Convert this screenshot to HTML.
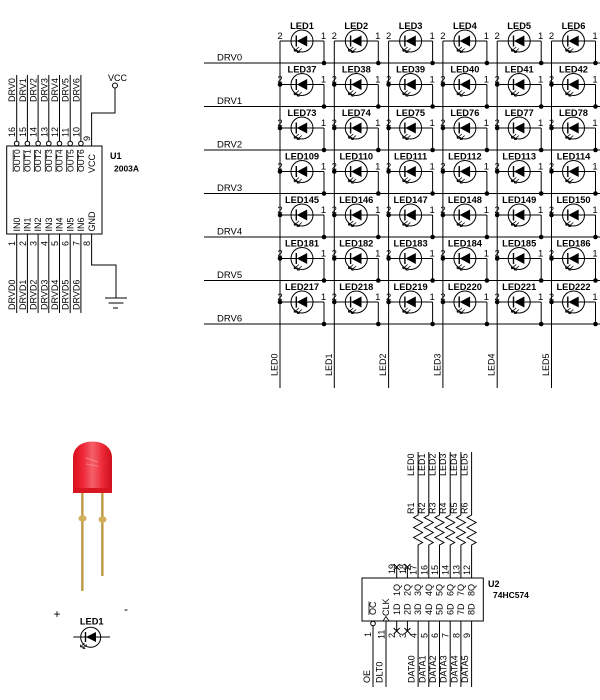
<!DOCTYPE html>
<html><head><meta charset="utf-8"><style>
html,body{margin:0;padding:0;background:#fff;}
svg{display:block;}
text{font-family:"Liberation Sans",Arial,sans-serif;font-size:9px;fill:#000;}
.b{font-weight:bold;}
.l{font-weight:bold;font-size:9.3px;text-anchor:middle;}
.p{font-size:9.5px;text-anchor:middle;}
.s{font-size:9px;}
.o{font-size:8.5px;}
.d{font-size:9.5px;}
</style></head><body>
<svg width="600" height="700" viewBox="0 0 600 700" xmlns="http://www.w3.org/2000/svg">
<defs>
<g id="ledsym">
<path d="M0 0H44M44 0V22" stroke="#000" fill="none"/>
<circle cx="22" cy="0" r="11" fill="none" stroke="#000"/>
<path d="M16.8 0L27.2 -5.5V5.5Z" fill="#000"/>
<path d="M16.3 -5.5V5.5" stroke="#000" stroke-width="1.4"/>
<path d="M19 6L14.2 10.2M21.8 7.5L17.2 11.6M14.2 10.2h2.6M14.2 10.2v-2.6M17.2 11.6h2.6M17.2 11.6v-2.6" stroke="#000" stroke-width="0.8" fill="none"/>
<circle cx="44" cy="22" r="2.3" fill="#000"/>
</g>
<linearGradient id="body" x1="0" x2="1" y1="0" y2="0">
<stop offset="0" stop-color="#d8101c"/>
<stop offset="0.25" stop-color="#ee2636"/>
<stop offset="0.5" stop-color="#f4606a"/>
<stop offset="0.75" stop-color="#ec2a38"/>
<stop offset="1" stop-color="#cf0f1c"/>
</linearGradient>
</defs>

<!-- ================= U1 ================= -->
<g stroke="#000" fill="none">
<rect x="6.7" y="146" width="95.3" height="88"/>
<path d="M16.7 75V141M27.4 75V141M38.1 75V141M48.8 75V141M59.5 75V141M70.2 75V141M80.9 75V141"/>
<circle cx="16.7" cy="143.5" r="2.3"/><circle cx="27.4" cy="143.5" r="2.3"/><circle cx="38.1" cy="143.5" r="2.3"/><circle cx="48.8" cy="143.5" r="2.3"/><circle cx="59.5" cy="143.5" r="2.3"/><circle cx="70.2" cy="143.5" r="2.3"/><circle cx="80.9" cy="143.5" r="2.3"/>
<path d="M91.6 146V113H115V88"/>
<circle cx="115" cy="85.5" r="2.5"/>
<path d="M16.7 234V313M27.4 234V313M38.1 234V313M48.8 234V313M59.5 234V313M70.2 234V313M80.9 234V313"/>
<path d="M91.6 234V265H116V298"/>
<path d="M105 298H127M108.5 303H123.5M113 308H118"/>
<!-- overlines -->
<path d="M13.2 150V172M23.9 150V172M34.6 150V172M45.3 150V172M56 150V172M66.7 150V172M77.4 150V172" stroke-width="0.8"/>
</g>
<text x="108" y="81" class="s">VCC</text>
<text x="110" y="159" class="b">U1</text>
<text x="114" y="171.5" class="b" style="font-size:8.5px">2003A</text>
<g>
<text transform="translate(15.2,102) rotate(-90)">DRV0</text>
<text transform="translate(25.9,102) rotate(-90)">DRV1</text>
<text transform="translate(36.6,102) rotate(-90)">DRV2</text>
<text transform="translate(47.3,102) rotate(-90)">DRV3</text>
<text transform="translate(58,102) rotate(-90)">DRV4</text>
<text transform="translate(68.7,102) rotate(-90)">DRV5</text>
<text transform="translate(79.4,102) rotate(-90)">DRV6</text>
<text transform="translate(15.2,137) rotate(-90)">16</text>
<text transform="translate(25.9,137) rotate(-90)">15</text>
<text transform="translate(36.6,137) rotate(-90)">14</text>
<text transform="translate(47.3,137) rotate(-90)">13</text>
<text transform="translate(58,137) rotate(-90)">12</text>
<text transform="translate(68.7,137) rotate(-90)">11</text>
<text transform="translate(79.4,137) rotate(-90)">10</text>
<text transform="translate(90.1,141) rotate(-90)">9</text>
<text class="o" transform="translate(19.8,172) rotate(-90)">OUT0</text>
<text class="o" transform="translate(30.5,172) rotate(-90)">OUT1</text>
<text class="o" transform="translate(41.2,172) rotate(-90)">OUT2</text>
<text class="o" transform="translate(51.9,172) rotate(-90)">OUT3</text>
<text class="o" transform="translate(62.6,172) rotate(-90)">OUT4</text>
<text class="o" transform="translate(73.3,172) rotate(-90)">OUT5</text>
<text class="o" transform="translate(84,172) rotate(-90)">OUT6</text>
<text transform="translate(94.8,173) rotate(-90)">VCC</text>
<text transform="translate(19.8,231.5) rotate(-90)">IN0</text>
<text transform="translate(30.5,231.5) rotate(-90)">IN1</text>
<text transform="translate(41.2,231.5) rotate(-90)">IN2</text>
<text transform="translate(51.9,231.5) rotate(-90)">IN3</text>
<text transform="translate(62.6,231.5) rotate(-90)">IN4</text>
<text transform="translate(73.3,231.5) rotate(-90)">IN5</text>
<text transform="translate(84,231.5) rotate(-90)">IN6</text>
<text transform="translate(94.8,231.5) rotate(-90)">GND</text>
<text transform="translate(15.2,246) rotate(-90)">1</text>
<text transform="translate(25.9,246) rotate(-90)">2</text>
<text transform="translate(36.6,246) rotate(-90)">3</text>
<text transform="translate(47.3,246) rotate(-90)">4</text>
<text transform="translate(58,246) rotate(-90)">5</text>
<text transform="translate(68.7,246) rotate(-90)">6</text>
<text transform="translate(79.4,246) rotate(-90)">7</text>
<text transform="translate(90.1,246) rotate(-90)">8</text>
<text transform="translate(15.2,310) rotate(-90)">DRVD0</text>
<text transform="translate(25.9,310) rotate(-90)">DRVD1</text>
<text transform="translate(36.6,310) rotate(-90)">DRVD2</text>
<text transform="translate(47.3,310) rotate(-90)">DRVD3</text>
<text transform="translate(58,310) rotate(-90)">DRVD4</text>
<text transform="translate(68.7,310) rotate(-90)">DRVD5</text>
<text transform="translate(79.4,310) rotate(-90)">DRVD6</text>
</g>

<!-- ================= LED MATRIX ================= -->
<g stroke="#000" fill="none">
<path d="M204 63H600M204 106.5H600M204 150H600M204 193.5H600M204 237H600M204 280.5H600M204 324H600"/>
<path d="M280 41V388M334.3 41V388M388.6 41V388M442.9 41V388M497.2 41V388M551.5 41V388"/>
</g>
<text x="217" y="60.5" class="d">DRV0</text>
<text x="217" y="104" class="d">DRV1</text>
<text x="217" y="147.5" class="d">DRV2</text>
<text x="217" y="191" class="d">DRV3</text>
<text x="217" y="234.5" class="d">DRV4</text>
<text x="217" y="278" class="d">DRV5</text>
<text x="217" y="321.5" class="d">DRV6</text>
<text transform="translate(277.5,376) rotate(-90)">LED0</text>
<text transform="translate(331.8,376) rotate(-90)">LED1</text>
<text transform="translate(386.1,376) rotate(-90)">LED2</text>
<text transform="translate(440.4,376) rotate(-90)">LED3</text>
<text transform="translate(494.7,376) rotate(-90)">LED4</text>
<text transform="translate(549,376) rotate(-90)">LED5</text>

<!-- row 0 -->
<g transform="translate(280,41)"><use href="#ledsym"/><text x="0" y="-2" class="p">2</text><text x="43.5" y="-2" class="p">1</text><text x="22" y="-12" class="l">LED1</text></g>
<g transform="translate(334.3,41)"><use href="#ledsym"/><text x="0" y="-2" class="p">2</text><text x="43.5" y="-2" class="p">1</text><text x="22" y="-12" class="l">LED2</text></g>
<g transform="translate(388.6,41)"><use href="#ledsym"/><text x="0" y="-2" class="p">2</text><text x="43.5" y="-2" class="p">1</text><text x="22" y="-12" class="l">LED3</text></g>
<g transform="translate(442.9,41)"><use href="#ledsym"/><text x="0" y="-2" class="p">2</text><text x="43.5" y="-2" class="p">1</text><text x="22" y="-12" class="l">LED4</text></g>
<g transform="translate(497.2,41)"><use href="#ledsym"/><text x="0" y="-2" class="p">2</text><text x="43.5" y="-2" class="p">1</text><text x="22" y="-12" class="l">LED5</text></g>
<g transform="translate(551.5,41)"><use href="#ledsym"/><text x="0" y="-2" class="p">2</text><text x="43.5" y="-2" class="p">1</text><text x="22" y="-12" class="l">LED6</text></g>
<!-- row 1 -->
<g transform="translate(280,84.5)"><use href="#ledsym"/><circle r="2.3"/><text x="0" y="-2" class="p">2</text><text x="43.5" y="-2" class="p">1</text><text x="22" y="-12" class="l">LED37</text></g>
<g transform="translate(334.3,84.5)"><use href="#ledsym"/><circle r="2.3"/><text x="0" y="-2" class="p">2</text><text x="43.5" y="-2" class="p">1</text><text x="22" y="-12" class="l">LED38</text></g>
<g transform="translate(388.6,84.5)"><use href="#ledsym"/><circle r="2.3"/><text x="0" y="-2" class="p">2</text><text x="43.5" y="-2" class="p">1</text><text x="22" y="-12" class="l">LED39</text></g>
<g transform="translate(442.9,84.5)"><use href="#ledsym"/><circle r="2.3"/><text x="0" y="-2" class="p">2</text><text x="43.5" y="-2" class="p">1</text><text x="22" y="-12" class="l">LED40</text></g>
<g transform="translate(497.2,84.5)"><use href="#ledsym"/><circle r="2.3"/><text x="0" y="-2" class="p">2</text><text x="43.5" y="-2" class="p">1</text><text x="22" y="-12" class="l">LED41</text></g>
<g transform="translate(551.5,84.5)"><use href="#ledsym"/><circle r="2.3"/><text x="0" y="-2" class="p">2</text><text x="43.5" y="-2" class="p">1</text><text x="22" y="-12" class="l">LED42</text></g>
<!-- row 2 -->
<g transform="translate(280,128)"><use href="#ledsym"/><circle r="2.3"/><text x="0" y="-2" class="p">2</text><text x="43.5" y="-2" class="p">1</text><text x="22" y="-12" class="l">LED73</text></g>
<g transform="translate(334.3,128)"><use href="#ledsym"/><circle r="2.3"/><text x="0" y="-2" class="p">2</text><text x="43.5" y="-2" class="p">1</text><text x="22" y="-12" class="l">LED74</text></g>
<g transform="translate(388.6,128)"><use href="#ledsym"/><circle r="2.3"/><text x="0" y="-2" class="p">2</text><text x="43.5" y="-2" class="p">1</text><text x="22" y="-12" class="l">LED75</text></g>
<g transform="translate(442.9,128)"><use href="#ledsym"/><circle r="2.3"/><text x="0" y="-2" class="p">2</text><text x="43.5" y="-2" class="p">1</text><text x="22" y="-12" class="l">LED76</text></g>
<g transform="translate(497.2,128)"><use href="#ledsym"/><circle r="2.3"/><text x="0" y="-2" class="p">2</text><text x="43.5" y="-2" class="p">1</text><text x="22" y="-12" class="l">LED77</text></g>
<g transform="translate(551.5,128)"><use href="#ledsym"/><circle r="2.3"/><text x="0" y="-2" class="p">2</text><text x="43.5" y="-2" class="p">1</text><text x="22" y="-12" class="l">LED78</text></g>
<!-- row 3 -->
<g transform="translate(280,171.5)"><use href="#ledsym"/><circle r="2.3"/><text x="0" y="-2" class="p">2</text><text x="43.5" y="-2" class="p">1</text><text x="22" y="-12" class="l">LED109</text></g>
<g transform="translate(334.3,171.5)"><use href="#ledsym"/><circle r="2.3"/><text x="0" y="-2" class="p">2</text><text x="43.5" y="-2" class="p">1</text><text x="22" y="-12" class="l">LED110</text></g>
<g transform="translate(388.6,171.5)"><use href="#ledsym"/><circle r="2.3"/><text x="0" y="-2" class="p">2</text><text x="43.5" y="-2" class="p">1</text><text x="22" y="-12" class="l">LED111</text></g>
<g transform="translate(442.9,171.5)"><use href="#ledsym"/><circle r="2.3"/><text x="0" y="-2" class="p">2</text><text x="43.5" y="-2" class="p">1</text><text x="22" y="-12" class="l">LED112</text></g>
<g transform="translate(497.2,171.5)"><use href="#ledsym"/><circle r="2.3"/><text x="0" y="-2" class="p">2</text><text x="43.5" y="-2" class="p">1</text><text x="22" y="-12" class="l">LED113</text></g>
<g transform="translate(551.5,171.5)"><use href="#ledsym"/><circle r="2.3"/><text x="0" y="-2" class="p">2</text><text x="43.5" y="-2" class="p">1</text><text x="22" y="-12" class="l">LED114</text></g>
<!-- row 4 -->
<g transform="translate(280,215)"><use href="#ledsym"/><circle r="2.3"/><text x="0" y="-2" class="p">2</text><text x="43.5" y="-2" class="p">1</text><text x="22" y="-12" class="l">LED145</text></g>
<g transform="translate(334.3,215)"><use href="#ledsym"/><circle r="2.3"/><text x="0" y="-2" class="p">2</text><text x="43.5" y="-2" class="p">1</text><text x="22" y="-12" class="l">LED146</text></g>
<g transform="translate(388.6,215)"><use href="#ledsym"/><circle r="2.3"/><text x="0" y="-2" class="p">2</text><text x="43.5" y="-2" class="p">1</text><text x="22" y="-12" class="l">LED147</text></g>
<g transform="translate(442.9,215)"><use href="#ledsym"/><circle r="2.3"/><text x="0" y="-2" class="p">2</text><text x="43.5" y="-2" class="p">1</text><text x="22" y="-12" class="l">LED148</text></g>
<g transform="translate(497.2,215)"><use href="#ledsym"/><circle r="2.3"/><text x="0" y="-2" class="p">2</text><text x="43.5" y="-2" class="p">1</text><text x="22" y="-12" class="l">LED149</text></g>
<g transform="translate(551.5,215)"><use href="#ledsym"/><circle r="2.3"/><text x="0" y="-2" class="p">2</text><text x="43.5" y="-2" class="p">1</text><text x="22" y="-12" class="l">LED150</text></g>
<!-- row 5 -->
<g transform="translate(280,258.5)"><use href="#ledsym"/><circle r="2.3"/><text x="0" y="-2" class="p">2</text><text x="43.5" y="-2" class="p">1</text><text x="22" y="-12" class="l">LED181</text></g>
<g transform="translate(334.3,258.5)"><use href="#ledsym"/><circle r="2.3"/><text x="0" y="-2" class="p">2</text><text x="43.5" y="-2" class="p">1</text><text x="22" y="-12" class="l">LED182</text></g>
<g transform="translate(388.6,258.5)"><use href="#ledsym"/><circle r="2.3"/><text x="0" y="-2" class="p">2</text><text x="43.5" y="-2" class="p">1</text><text x="22" y="-12" class="l">LED183</text></g>
<g transform="translate(442.9,258.5)"><use href="#ledsym"/><circle r="2.3"/><text x="0" y="-2" class="p">2</text><text x="43.5" y="-2" class="p">1</text><text x="22" y="-12" class="l">LED184</text></g>
<g transform="translate(497.2,258.5)"><use href="#ledsym"/><circle r="2.3"/><text x="0" y="-2" class="p">2</text><text x="43.5" y="-2" class="p">1</text><text x="22" y="-12" class="l">LED185</text></g>
<g transform="translate(551.5,258.5)"><use href="#ledsym"/><circle r="2.3"/><text x="0" y="-2" class="p">2</text><text x="43.5" y="-2" class="p">1</text><text x="22" y="-12" class="l">LED186</text></g>
<!-- row 6 -->
<g transform="translate(280,302)"><use href="#ledsym"/><circle r="2.3"/><text x="0" y="-2" class="p">2</text><text x="43.5" y="-2" class="p">1</text><text x="22" y="-12" class="l">LED217</text></g>
<g transform="translate(334.3,302)"><use href="#ledsym"/><circle r="2.3"/><text x="0" y="-2" class="p">2</text><text x="43.5" y="-2" class="p">1</text><text x="22" y="-12" class="l">LED218</text></g>
<g transform="translate(388.6,302)"><use href="#ledsym"/><circle r="2.3"/><text x="0" y="-2" class="p">2</text><text x="43.5" y="-2" class="p">1</text><text x="22" y="-12" class="l">LED219</text></g>
<g transform="translate(442.9,302)"><use href="#ledsym"/><circle r="2.3"/><text x="0" y="-2" class="p">2</text><text x="43.5" y="-2" class="p">1</text><text x="22" y="-12" class="l">LED220</text></g>
<g transform="translate(497.2,302)"><use href="#ledsym"/><circle r="2.3"/><text x="0" y="-2" class="p">2</text><text x="43.5" y="-2" class="p">1</text><text x="22" y="-12" class="l">LED221</text></g>
<g transform="translate(551.5,302)"><use href="#ledsym"/><circle r="2.3"/><text x="0" y="-2" class="p">2</text><text x="43.5" y="-2" class="p">1</text><text x="22" y="-12" class="l">LED222</text></g>

<!-- ================= LED PHOTO ================= -->
<rect x="81.4" y="490" width="2.2" height="101" fill="#c9a14a"/>
<rect x="81.4" y="490" width="0.8" height="101" fill="#a07a2a"/>
<rect x="101.4" y="490" width="2.2" height="86" fill="#c9a14a"/>
<rect x="101.4" y="490" width="0.8" height="86" fill="#a07a2a"/>
<ellipse cx="82.5" cy="518.5" rx="4" ry="3.2" fill="#d2ad5a"/>
<ellipse cx="102.5" cy="519.5" rx="4" ry="3.2" fill="#d2ad5a"/>
<path d="M73 493V458C73 447 82 441.5 92.5 441.5C103 441.5 112 447 112 458V493Z" fill="url(#body)"/>
<rect x="73" y="488" width="39" height="5" fill="#d81622"/>
<path d="M86 458L98 462M86 464L98 466" stroke="#f7939a" stroke-width="1" opacity="0.7"/>
<text x="53.5" y="618" style="font-size:12px">+</text>
<text x="124" y="613" style="font-size:12px">-</text>
<text x="91.7" y="624.5" class="l">LED1</text>
<g stroke="#000" fill="none">
<path d="M73.3 637H110"/>
<circle cx="90.7" cy="637.3" r="10"/>
<path d="M84.5 643L80.5 647M87 644.5L83 648.5M80.5 647h2.4M80.5 647v-2.4M83 648.5h2.4M83 648.5v-2.4" stroke-width="0.8"/>
</g>
<path d="M86 637L96 632V642Z" fill="#000"/>
<path d="M85.5 632V642" stroke="#000" stroke-width="1.4"/>

<!-- ================= U2 ================= -->
<g stroke="#000" fill="none">
<rect x="362" y="578" width="121.3" height="43"/>
<path d="M396.7 578V567M407.4 578V567M393.7 564L399.7 570M393.7 570L399.7 564M404.4 564L410.4 570M404.4 570L410.4 564"/>
<path d="M418.1 578V545l4.5-2.5l-9-5l9-5l-9-5l9-5l-9-5l4.5-2.5V452"/>
<path d="M428.8 578V545l4.5-2.5l-9-5l9-5l-9-5l9-5l-9-5l4.5-2.5V452"/>
<path d="M439.5 578V545l4.5-2.5l-9-5l9-5l-9-5l9-5l-9-5l4.5-2.5V452"/>
<path d="M450.2 578V545l4.5-2.5l-9-5l9-5l-9-5l9-5l-9-5l4.5-2.5V452"/>
<path d="M460.9 578V545l4.5-2.5l-9-5l9-5l-9-5l9-5l-9-5l4.5-2.5V452"/>
<path d="M471.6 578V545l4.5-2.5l-9-5l9-5l-9-5l9-5l-9-5l4.5-2.5V452"/>
<circle cx="373" cy="623.5" r="2.3"/>
<path d="M373 626V687M386 621V687"/>
<path d="M383 621L386 616.5L389 621" stroke-width="0.8"/>
<path d="M396.7 621V631M407.4 621V631M393.7 628L399.7 634M393.7 634L399.7 628M404.4 628L410.4 634M404.4 634L410.4 628"/>
<path d="M418.1 621V687M428.8 621V687M439.5 621V687M450.2 621V687M460.9 621V687M471.6 621V687"/>
<path d="M369 601.5V615" stroke-width="0.8"/>
</g>
<text x="488" y="587" class="b">U2</text>
<text x="493" y="598" class="b" style="font-size:8.5px">74HC574</text>
<g>
<text transform="translate(414.1,476) rotate(-90)">LED0</text>
<text transform="translate(424.8,476) rotate(-90)">LED1</text>
<text transform="translate(435.5,476) rotate(-90)">LED2</text>
<text transform="translate(446.2,476) rotate(-90)">LED3</text>
<text transform="translate(456.9,476) rotate(-90)">LED4</text>
<text transform="translate(467.6,476) rotate(-90)">LED5</text>
<text transform="translate(414.1,514) rotate(-90)">R1</text>
<text transform="translate(424.8,514) rotate(-90)">R2</text>
<text transform="translate(435.5,514) rotate(-90)">R3</text>
<text transform="translate(446.2,514) rotate(-90)">R4</text>
<text transform="translate(456.9,514) rotate(-90)">R5</text>
<text transform="translate(467.6,514) rotate(-90)">R6</text>
<text class="s" transform="translate(395.2,574) rotate(-90)">19</text>
<text class="s" transform="translate(405.9,574) rotate(-90)">18</text>
<text class="s" transform="translate(416.6,575) rotate(-90)">17</text>
<text class="s" transform="translate(427.3,575) rotate(-90)">16</text>
<text class="s" transform="translate(438,575) rotate(-90)">15</text>
<text class="s" transform="translate(448.7,575) rotate(-90)">14</text>
<text class="s" transform="translate(459.4,575) rotate(-90)">13</text>
<text class="s" transform="translate(470.1,575) rotate(-90)">12</text>
<text class="s" transform="translate(399.8,596) rotate(-90)">1Q</text>
<text class="s" transform="translate(410.5,596) rotate(-90)">2Q</text>
<text class="s" transform="translate(421.2,596) rotate(-90)">3Q</text>
<text class="s" transform="translate(431.9,596) rotate(-90)">4Q</text>
<text class="s" transform="translate(442.6,596) rotate(-90)">5Q</text>
<text class="s" transform="translate(453.3,596) rotate(-90)">6Q</text>
<text class="s" transform="translate(464,596) rotate(-90)">7Q</text>
<text class="s" transform="translate(474.7,596) rotate(-90)">8Q</text>
<text class="s" transform="translate(376.2,615) rotate(-90)">OC</text>
<text class="s" transform="translate(389.2,616) rotate(-90)">CLK</text>
<text class="s" transform="translate(399.8,615) rotate(-90)">1D</text>
<text class="s" transform="translate(410.5,615) rotate(-90)">2D</text>
<text class="s" transform="translate(421.2,615) rotate(-90)">3D</text>
<text class="s" transform="translate(431.9,615) rotate(-90)">4D</text>
<text class="s" transform="translate(442.6,615) rotate(-90)">5D</text>
<text class="s" transform="translate(453.3,615) rotate(-90)">6D</text>
<text class="s" transform="translate(464,615) rotate(-90)">7D</text>
<text class="s" transform="translate(474.7,615) rotate(-90)">8D</text>
<text class="s" transform="translate(371,637) rotate(-90)">1</text>
<text class="s" transform="translate(384.5,639) rotate(-90)">11</text>
<text class="s" transform="translate(395.2,638) rotate(-90)">2</text>
<text class="s" transform="translate(405.9,638) rotate(-90)">3</text>
<text class="s" transform="translate(416.6,638) rotate(-90)">4</text>
<text class="s" transform="translate(427.3,638) rotate(-90)">5</text>
<text class="s" transform="translate(438,638) rotate(-90)">6</text>
<text class="s" transform="translate(448.7,638) rotate(-90)">7</text>
<text class="s" transform="translate(459.4,638) rotate(-90)">8</text>
<text class="s" transform="translate(470.1,638) rotate(-90)">9</text>
<text transform="translate(370,683) rotate(-90)">OE</text>
<text transform="translate(382.5,683) rotate(-90)">DLT0</text>
<text transform="translate(414.6,683) rotate(-90)">DATA0</text>
<text transform="translate(425.3,683) rotate(-90)">DATA1</text>
<text transform="translate(436,683) rotate(-90)">DATA2</text>
<text transform="translate(446.7,683) rotate(-90)">DATA3</text>
<text transform="translate(457.4,683) rotate(-90)">DATA4</text>
<text transform="translate(468.1,683) rotate(-90)">DATA5</text>
</g>
</svg>
</body></html>
